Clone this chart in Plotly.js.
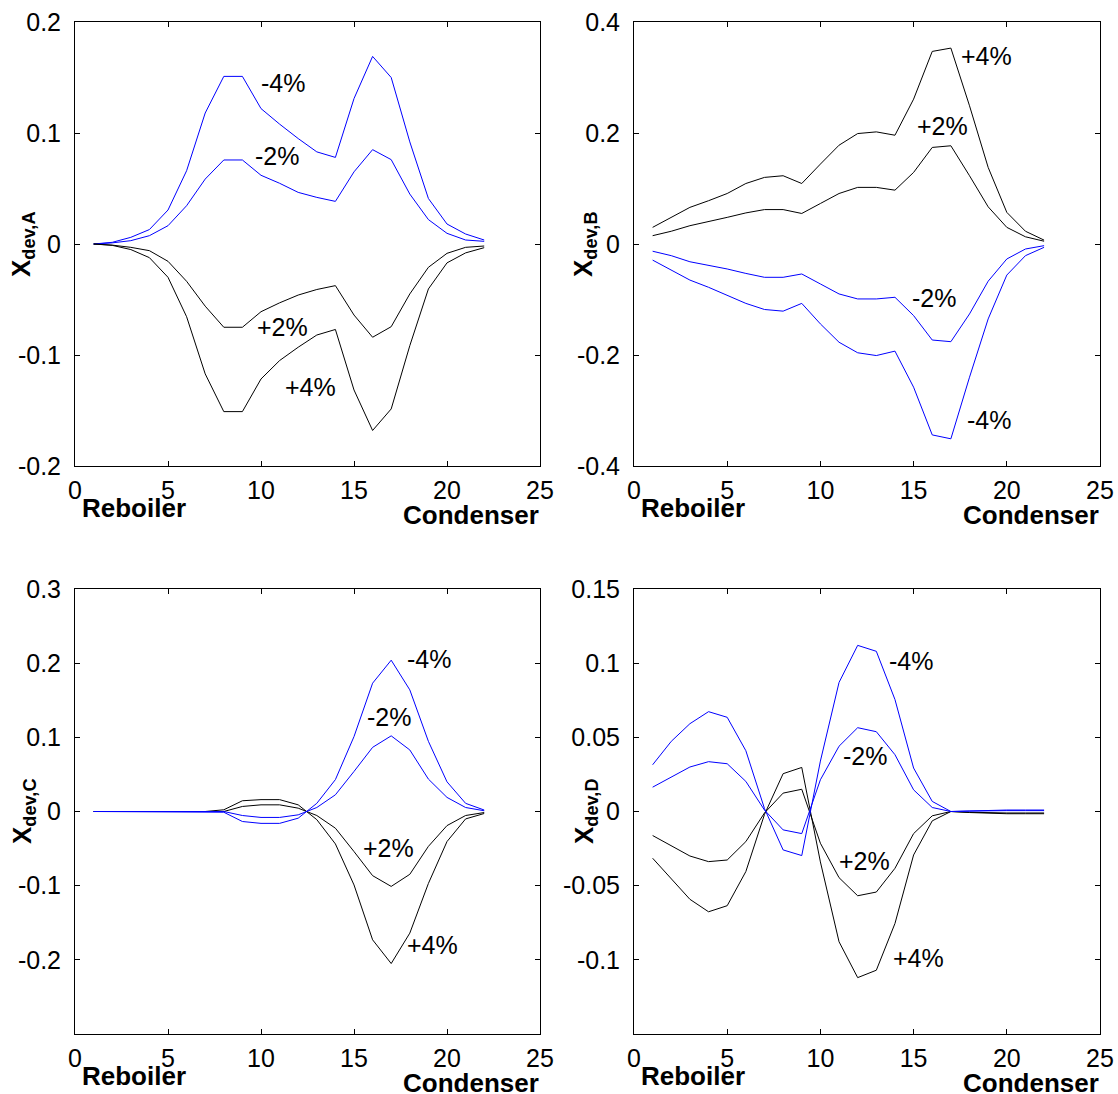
<!DOCTYPE html>
<html>
<head>
<meta charset="utf-8">
<script src="https://cdn.plot.ly/plotly-3.0.1.min.js"></script>
<style>
  html, body { margin: 0; padding: 0; background: #fff; }
  #chart { width: 1118px; height: 1094px; }
</style>
</head>
<body>
<div id="chart"></div>
<script>
// Stage numbers (1 = reboiler ... 22 = condenser)
const stages = [1,2,3,4,5,6,7,8,9,10,11,12,13,14,15,16,17,18,19,20,21,22];

// Panel A: X_dev,A
const A_m4 = [0, 0.0015, 0.006, 0.013, 0.0306, 0.066, 0.118, 0.151, 0.151, 0.122, 0.108, 0.095, 0.083, 0.078, 0.131, 0.169, 0.150, 0.092, 0.041, 0.018, 0.009, 0.0036];
const A_m2 = [0, 0.001, 0.003, 0.0075, 0.0165, 0.0345, 0.0585, 0.0757, 0.0757, 0.0619, 0.0547, 0.0465, 0.042, 0.0384, 0.065, 0.085, 0.076, 0.045, 0.022, 0.0096, 0.0036, 0.0024];
const A_p2 = [0, -0.001, -0.003, -0.006, -0.0156, -0.0336, -0.056, -0.075, -0.075, -0.061, -0.053, -0.046, -0.041, -0.0375, -0.064, -0.084, -0.0745, -0.045, -0.021, -0.0084, -0.003, -0.0018];
const A_p4 = [0, -0.0012, -0.005, -0.0123, -0.030, -0.0655, -0.117, -0.151, -0.151, -0.1216, -0.105, -0.093, -0.082, -0.077, -0.1315, -0.168, -0.1486, -0.0916, -0.0405, -0.017, -0.008, -0.0033];

// Panel B: X_dev,B
const B_p4 = [0.030, 0.048, 0.066, 0.078, 0.091, 0.109, 0.120, 0.123, 0.109, 0.144, 0.178, 0.199, 0.202, 0.196, 0.261, 0.347, 0.353, 0.249, 0.138, 0.057, 0.023, 0.007];
const B_p2 = [0.015, 0.023, 0.033, 0.040, 0.048, 0.056, 0.062, 0.062, 0.055, 0.073, 0.091, 0.102, 0.102, 0.097, 0.129, 0.174, 0.177, 0.123, 0.067, 0.030, 0.013, 0.005];
const B_m2 = [-0.013, -0.021, -0.032, -0.038, -0.045, -0.053, -0.060, -0.060, -0.054, -0.072, -0.090, -0.099, -0.099, -0.096, -0.129, -0.173, -0.176, -0.126, -0.067, -0.027, -0.009, -0.003];
const B_m4 = [-0.029, -0.047, -0.065, -0.078, -0.093, -0.107, -0.118, -0.121, -0.107, -0.144, -0.177, -0.196, -0.201, -0.193, -0.258, -0.344, -0.351, -0.240, -0.135, -0.056, -0.021, -0.006];

// Panel C: X_dev,C
const C_m4 = [0, 0, 0, 0, 0, 0, 0, -0.001, -0.0135, -0.016, -0.016, -0.009, 0.011, 0.043, 0.101, 0.173, 0.204, 0.164, 0.0946, 0.040, 0.011, 0.002];
const C_m2 = [0, 0, 0, 0, 0, 0, 0, 0, -0.0054, -0.008, -0.008, -0.0045, 0.0054, 0.0225, 0.054, 0.0865, 0.102, 0.083, 0.0437, 0.019, 0.0054, 0.001];
const C_p2 = [0, 0, 0, 0, 0, 0, 0, 0, 0.0068, 0.009, 0.009, 0.0045, -0.0054, -0.0225, -0.054, -0.0865, -0.101, -0.0847, -0.047, -0.019, -0.0054, -0.0014];
const C_p4 = [0, 0, 0, 0, 0, 0, 0, 0.0023, 0.0145, 0.016, 0.016, 0.009, -0.011, -0.0437, -0.099, -0.173, -0.205, -0.164, -0.097, -0.0405, -0.010, -0.0027];

// Panel D: X_dev,D
const D_m4 = [0.0315, 0.0473, 0.0592, 0.0673, 0.0635, 0.041, 0.002, -0.0259, -0.0297, 0.034, 0.087, 0.112, 0.108, 0.0755, 0.0293, 0.0068, 0, 0.0005, 0.001, 0.001, 0.001, 0.001];
const D_m2 = [0.0164, 0.0232, 0.030, 0.0336, 0.0322, 0.0203, 0.001, -0.0124, -0.0149, 0.0214, 0.044, 0.0565, 0.0538, 0.0383, 0.0146, 0.0027, 0, 0.0003, 0.0006, 0.0006, 0.0006, 0.0006];
const D_p2 = [-0.0162, -0.0232, -0.030, -0.0338, -0.0327, -0.0203, -0.001, 0.0124, 0.015, -0.0214, -0.0446, -0.0568, -0.0543, -0.0383, -0.0149, -0.0029, 0, -0.0005, -0.001, -0.001, -0.001, -0.001];
const D_p4 = [-0.0315, -0.045, -0.0592, -0.0676, -0.0635, -0.0405, -0.002, 0.0255, 0.0297, -0.034, -0.0878, -0.112, -0.107, -0.0755, -0.0293, -0.0063, 0, -0.0007, -0.0012, -0.0015, -0.0015, -0.0015];

// Tick labels
const xTicks = [0, 5, 10, 15, 20, 25];
const yTicksA = [-0.2, -0.1, 0, 0.1, 0.2];
const yTicksB = [-0.4, -0.2, 0, 0.2, 0.4];
const yTicksC = [-0.2, -0.1, 0, 0.1, 0.2, 0.3];
const yTicksD = [-0.1, -0.05, 0, 0.05, 0.1, 0.15];

// Curve labels [text, x, y]
const labelsA = [["-4%", 11.17, 0.1447], ["-2%", 10.85, 0.0796], ["+2%", 11.17, -0.0745], ["+4%", 12.68, -0.129]];
const labelsB = [["+4%", 18.92, 0.339], ["+2%", 16.55, 0.213], ["-2%", 16.1, -0.097], ["-4%", 19.04, -0.318]];
const labelsC = [["-4%", 19.05, 0.205], ["-2%", 16.9, 0.127], ["+2%", 16.85, -0.0486], ["+4%", 19.23, -0.18]];
const labelsD = [["-4%", 14.85, 0.1014], ["-2%", 12.38, 0.0372], ["+2%", 12.38, -0.0333], ["+4%", 15.28, -0.0986]];

const W = 1118, H = 1094;
const FONT = "Liberation Sans, Arial, Helvetica, sans-serif";
const BLUE = "#0000ff", BLACK = "#000000";

function px(x) { return x / W; }
function py(y) { return 1 - y / H; }

const panels = [
  {xa: "x", ya: "y", series: [[A_m4, BLUE], [A_m2, BLUE], [A_p2, BLACK], [A_p4, BLACK]], labels: labelsA},
  {xa: "x2", ya: "y2", series: [[B_p4, BLACK], [B_p2, BLACK], [B_m2, BLUE], [B_m4, BLUE]], labels: labelsB},
  {xa: "x3", ya: "y3", series: [[C_p4, BLACK], [C_p2, BLACK], [C_m2, BLUE], [C_m4, BLUE]], labels: labelsC},
  {xa: "x4", ya: "y4", series: [[D_p4, BLACK], [D_p2, BLACK], [D_m2, BLUE], [D_m4, BLUE]], labels: labelsD}
];

const traces = [];
const annotations = [];
panels.forEach(p => {
  p.series.forEach(s => {
    traces.push({x: stages, y: s[0], xaxis: p.xa, yaxis: p.ya, type: "scatter", mode: "lines",
      line: {color: s[1], width: 1}, hoverinfo: "skip", showlegend: false});
  });
  p.labels.forEach(l => {
    annotations.push({text: l[0], x: l[1], y: l[2], xref: p.xa, yref: p.ya, showarrow: false,
      xanchor: "center", yanchor: "middle",
      font: {family: FONT, size: 25, color: "#000"}});
  });
});

// Axis side labels
const leftX = [75, 540], rightX = [634, 1100];
const topY = [22, 466], botY = [589, 1034];
function sideLabels(xr, yBottom) {
  annotations.push({text: "<b>Reboiler</b>", x: px(xr[0] + 59), y: py(yBottom + 42), xref: "paper", yref: "paper",
    xanchor: "center", yanchor: "middle",
    showarrow: false, font: {family: FONT, size: 26, color: "#000"}});
  annotations.push({text: "<b>Condenser</b>", x: px(xr[1] - 69), y: py(yBottom + 49), xref: "paper", yref: "paper",
    xanchor: "center", yanchor: "middle",
    showarrow: false, font: {family: FONT, size: 26, color: "#000"}});
}
sideLabels(leftX, topY[1]);
sideLabels(rightX, topY[1]);
sideLabels(leftX, botY[1]);
sideLabels(rightX, botY[1]);

function yTitle(letter, xc, yc) {
  annotations.push({text: "<b>X<sub>dev," + letter + "</sub></b>", x: px(xc), y: py(yc), xref: "paper", yref: "paper",
    xanchor: "center", yanchor: "middle",
    showarrow: false, textangle: -90, font: {family: FONT, size: 26, color: "#000"}});
}
yTitle("A", 23, 244);
yTitle("B", 585, 244);
yTitle("C", 23, 811);
yTitle("D", 585, 811);

function xAxis(domain, anchor) {
  return {domain: domain, anchor: anchor, range: [0, 25], tickvals: xTicks, ticktext: xTicks.map(String),
    ticks: "inside", ticklen: 5, tickcolor: "#000", showline: true, mirror: "ticks", linecolor: "#000", linewidth: 1,
    showgrid: false, zeroline: false, ticklabelstandoff: 2,
    tickfont: {family: FONT, size: 25, color: "#000"}, fixedrange: true};
}
function yAxis(domain, anchor, range, ticks) {
  return {domain: domain, anchor: anchor, range: range, tickvals: ticks, ticktext: ticks.map(String),
    ticks: "inside", ticklen: 5, tickcolor: "#000", showline: true, mirror: "ticks", linecolor: "#000", linewidth: 1,
    showgrid: false, zeroline: false, ticklabelstandoff: 8,
    tickfont: {family: FONT, size: 25, color: "#000"}, fixedrange: true};
}

const dxL = [px(leftX[0]), px(leftX[1])], dxR = [px(rightX[0]), px(rightX[1])];
const dyT = [py(topY[1]), py(topY[0])], dyB = [py(botY[1]), py(botY[0])];

const layout = {
  width: W, height: H,
  margin: {l: 0, r: 0, t: 0, b: 0},
  paper_bgcolor: "#fff", plot_bgcolor: "#fff",
  showlegend: false,
  xaxis: xAxis(dxL, "y"), yaxis: yAxis(dyT, "x", [-0.2, 0.2], yTicksA),
  xaxis2: xAxis(dxR, "y2"), yaxis2: yAxis(dyT, "x2", [-0.4, 0.4], yTicksB),
  xaxis3: xAxis(dxL, "y3"), yaxis3: yAxis(dyB, "x3", [-0.3, 0.3], yTicksC),
  xaxis4: xAxis(dxR, "y4"), yaxis4: yAxis(dyB, "x4", [-0.15, 0.15], yTicksD),
  annotations: annotations
};

Plotly.newPlot("chart", traces, layout, {displayModeBar: false, staticPlot: true});
</script>
</body>
</html>
